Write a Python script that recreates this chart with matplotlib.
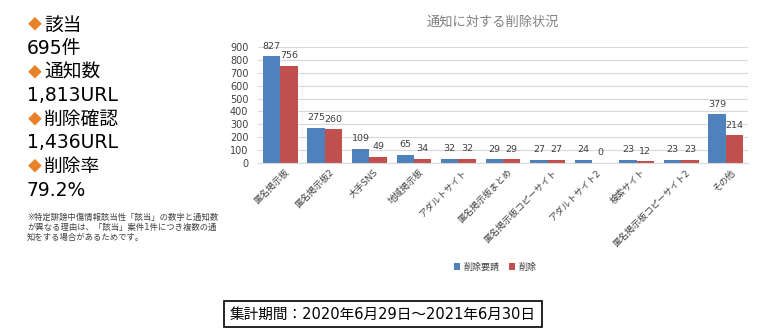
import numpy as np
import matplotlib
matplotlib.use("Agg")
from matplotlib import pyplot as plt

plt.rcParams['font.family'] = ['DejaVu Sans', 'Noto Sans CJK JP']

# 通知に対する削除状況
categories = ['匿名掲示板', '匿名掲示板2', '大手SNS', '地域掲示板', 'アダルトサイト',
              '匿名掲示板まとめ', '匿名掲示板コピーサイト', 'アダルトサイト2', '検索サイト',
              '匿名掲示板コピーサイト2', 'その他']
requested = [827, 275, 109, 65, 32, 29, 27, 24, 23, 23, 379]
deleted = [756, 260, 49, 34, 32, 29, 27, 0, 12, 23, 214]
series_names = ['削除要請', '削除']

# 左側の集計サマリー
summary = [('該当', '695件'), ('通知数', '1,813URL'),
           ('削除確認', '1,436URL'), ('削除率', '79.2%')]
note_lines = ['※特定誹謗中傷情報該当性「該当」の数字と通知数',
              'が異なる理由は、「該当」案件1件につき複数の通',
              '知をする場合があるためです。']
period = '集計期間：2020年6月29日～2021年6月30日'

W, H = 780, 336
fig = plt.figure(figsize=(W / 100, H / 100), dpi=100)


def px(x, y):
    # ピクセル座標 -> figure座標
    return x / W, 1 - y / H


ax = fig.add_axes([258 / W, 1 - 163 / H, 490 / W, 116 / H])
x = np.arange(len(categories))
bw = 0.39
b1 = ax.bar(x - bw / 2, requested, bw, color='#4F81BD', label=series_names[0])
b2 = ax.bar(x + bw / 2, deleted, bw, color='#C0504D', label=series_names[1])
for bars in (b1, b2):
    ax.bar_label(bars, padding=4, fontsize=6.8, color='#404040')

ax.set_ylim(0, 900)
ax.set_xlim(-0.5, len(categories) - 0.5)
ax.set_yticks(np.arange(0, 901, 100))
ax.yaxis.grid(True, color='#D9D9D9', linewidth=0.8)
ax.set_axisbelow(True)
for s in ('top', 'right', 'left'):
    ax.spines[s].set_visible(False)
ax.spines['bottom'].set_color('#D9D9D9')
ax.tick_params(axis='both', length=0, labelsize=7, colors='#404040')
ax.tick_params(axis='y', pad=7)
ax.set_xticks(x + 0.1)
ax.set_xticklabels(categories, rotation=45, ha='right', va='top',
                   rotation_mode='anchor', fontsize=6.5)

fig.text(*px(493, 22), '通知に対する削除状況', ha='center', va='center',
         fontsize=9.5, color='#808080')

fig.legend(handles=[b1, b2], loc='center', bbox_to_anchor=px(495, 267), ncol=2,
           frameon=False, fontsize=6.5, handlelength=0.7, handleheight=0.7,
           handletextpad=0.4, columnspacing=1.0, labelcolor='#404040')

# サマリー
y0, step = 25, 23.6
for i, (head, val) in enumerate(summary):
    yy = y0 + 2 * i * step
    fig.text(*px(28, yy), '◆', ha='left', va='center', fontsize=10,
             color='#E8822A', family='Noto Sans CJK JP')
    fig.text(*px(44, yy), head, ha='left', va='center', fontsize=13.5, color='black')
    fig.text(*px(27, yy + step), val, ha='left', va='center', fontsize=13.5,
             color='black')

for i, line in enumerate(note_lines):
    fig.text(*px(27, 217 + i * 10), line, ha='left', va='center', fontsize=6,
             color='#404040')

fig.text(*px(383, 314), period, ha='center', va='center', fontsize=10.5,
         color='black',
         bbox=dict(boxstyle='square,pad=0.4', facecolor='white',
                   edgecolor='black', linewidth=1.2))

fig.savefig('out.png', dpi=100)
